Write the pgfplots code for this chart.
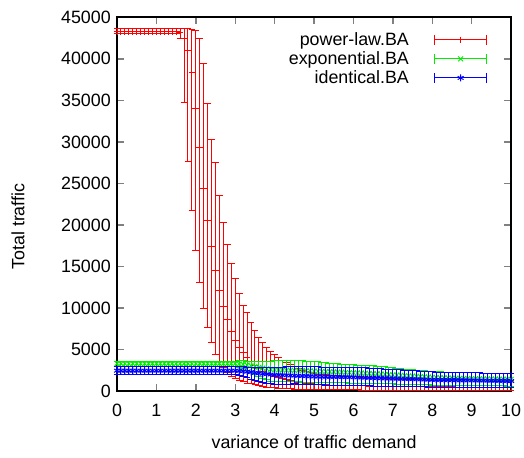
\documentclass[border=0pt]{standalone}
\usepackage{fontspec}
\setmainfont{Liberation Sans}
\usepackage{pgfplots}
\usepackage{pgfplotstable}
\pgfplotsset{compat=1.18}
\definecolor{gpred}{rgb}{1,0,0}
\definecolor{gpgreen}{rgb}{0,0.93,0}
\definecolor{gpblue}{rgb}{0,0,1}

% error bar drawn as part of the mark: bar from -\emlen to +\eplen (pt), caps, symbol
\pgfdeclareplotmark{ebar}{%
  \pgfpathmoveto{\pgfpoint{0pt}{-\emlen pt}}\pgfpathlineto{\pgfpoint{0pt}{\eplen pt}}%
  \pgfpathmoveto{\pgfpoint{-2pt}{\eplen pt}}\pgfpathlineto{\pgfpoint{2pt}{\eplen pt}}%
  \pgfpathmoveto{\pgfpoint{-2pt}{-\emlen pt}}\pgfpathlineto{\pgfpoint{2pt}{-\emlen pt}}%
  \pgfusepathqstroke}
\pgfdeclareplotmark{ebplus}{\pgfuseplotmark{ebar}\pgfuseplotmark{+}}
\pgfdeclareplotmark{ebx}{\pgfuseplotmark{ebar}\pgfuseplotmark{x}}
\pgfdeclareplotmark{ebast}{\pgfuseplotmark{ebar}\pgfuseplotmark{asterisk}}
\pgfdeclareplotmark{legerr}{%
  \pgfpathmoveto{\pgfpoint{-15.5pt}{0pt}}\pgfpathlineto{\pgfpoint{15.5pt}{0pt}}%
  \pgfpathmoveto{\pgfpoint{-15.5pt}{-3pt}}\pgfpathlineto{\pgfpoint{-15.5pt}{3pt}}%
  \pgfpathmoveto{\pgfpoint{15.5pt}{-3pt}}\pgfpathlineto{\pgfpoint{15.5pt}{3pt}}%
  \pgfusepathqstroke}
\pgfdeclareplotmark{legplus}{\pgfuseplotmark{legerr}\pgfuseplotmark{+}}
\pgfdeclareplotmark{legx}{\pgfuseplotmark{legerr}\pgfuseplotmark{x}}
\pgfdeclareplotmark{legast}{\pgfuseplotmark{legerr}\pgfuseplotmark{asterisk}}

\pgfplotstableread[row sep=\\]{
x y ep em\\
0.0 43300 300 300\\ 0.1 43300 300 300\\ 0.2 43300 300 300\\ 0.3 43300 300 300\\ 0.4 43300 300 300\\
0.5 43300 300 300\\ 0.6 43300 300 300\\ 0.7 43300 300 300\\ 0.8 43300 300 300\\ 0.9 43300 300 300\\
1.0 43300 300 300\\ 1.1 43300 300 300\\ 1.2 43300 300 300\\ 1.3 43300 300 300\\ 1.4 43300 300 300\\
1.5 43300 300 300\\ 1.6 43200 400 700\\ 1.7 42500 1100 7700\\ 1.8 41000 2600 13400\\ 1.9 38300 5200 16500\\
2.0 34000 9400 17100\\ 2.1 29300 13100 16200\\ 2.2 24400 15000 14500\\ 2.3 20500 14100 12900\\ 2.4 17400 12900 11600\\
2.5 14500 13000 10050\\ 2.6 12150 11350 8650\\ 2.7 10150 10150 7350\\ 2.8 8600 9000 6400\\ 2.9 7200 8100 5500\\
3.0 6100 7400 4650\\ 3.1 5300 6500 4050\\ 3.2 4600 5750 3500\\ 3.3 4000 5400 3050\\ 3.4 3500 4800 2650\\
3.5 3050 4250 2300\\ 3.6 2700 3800 2050\\ 3.7 2400 3400 1850\\ 3.8 2150 3050 1670\\ 3.9 1950 2850 1530\\
4.0 1750 2650 1380\\ 4.1 1600 2400 1270\\ 4.2 1450 2250 1150\\ 4.3 1330 2070 1060\\ 4.4 1220 1930 970\\
4.5 1120 1780 890\\ 4.6 1040 1660 830\\ 4.7 970 1530 770\\ 4.8 900 1450 710\\ 4.9 850 1350 670\\
5.0 800 1280 630\\ 5.1 780 1260 615\\ 5.2 760 1230 600\\ 5.3 740 1200 590\\ 5.4 720 1180 575\\
5.5 700 1150 560\\ 5.6 690 1135 550\\ 5.7 675 1120 540\\ 5.8 665 1105 530\\ 5.9 650 1095 520\\
6.0 640 1080 510\\ 6.1 630 1065 505\\ 6.2 620 1050 500\\ 6.3 610 1040 495\\ 6.4 600 1025 490\\
6.5 595 1015 480\\ 6.6 585 1000 475\\ 6.7 580 990 470\\ 6.8 570 975 465\\ 6.9 565 960 455\\
7.0 560 950 450\\ 7.1 555 940 445\\ 7.2 550 930 440\\ 7.3 545 920 435\\ 7.4 535 910 430\\
7.5 530 900 425\\ 7.6 525 890 420\\ 7.7 520 880 415\\ 7.8 510 870 410\\ 7.9 505 860 405\\
8.0 500 850 400\\ 8.1 495 845 397\\ 8.2 492 840 394\\ 8.3 490 835 391\\ 8.4 487 830 388\\
8.5 485 825 385\\ 8.6 482 820 382\\ 8.7 480 815 379\\ 8.8 477 810 376\\ 8.9 473 805 373\\
9.0 470 800 370\\ 9.1 468 798 368\\ 9.2 466 796 366\\ 9.3 464 794 364\\ 9.4 462 792 362\\
9.5 460 790 360\\ 9.6 458 788 358\\ 9.7 456 786 356\\ 9.8 454 784 354\\ 9.9 452 782 352\\
10.0 450 780 350\\
}\powerlaw

\pgfplotstableread[row sep=\\]{
x y ep em\\
0.0 3300 300 300\\ 0.1 3300 300 300\\ 0.2 3300 300 300\\ 0.3 3300 300 300\\ 0.4 3300 300 300\\
0.5 3300 300 300\\ 0.6 3300 300 300\\ 0.7 3300 300 300\\ 0.8 3300 300 300\\ 0.9 3300 300 300\\
1.0 3300 300 300\\ 1.1 3300 300 300\\ 1.2 3300 300 300\\ 1.3 3300 300 300\\ 1.4 3300 300 300\\
1.5 3300 300 300\\ 1.6 3300 300 300\\ 1.7 3300 300 300\\ 1.8 3300 300 300\\ 1.9 3300 300 300\\
2.0 3300 300 300\\ 2.1 3300 300 300\\ 2.2 3300 300 300\\ 2.3 3300 300 300\\ 2.4 3300 300 300\\
2.5 3300 300 300\\ 2.6 3300 300 300\\ 2.7 3300 300 300\\ 2.8 3300 300 300\\ 2.9 3300 300 300\\
3.0 3300 300 300\\ 3.1 3250 370 400\\ 3.2 3200 420 520\\ 3.3 3120 480 650\\ 3.4 3030 550 800\\
3.5 2940 620 950\\ 3.6 2850 700 1100\\ 3.7 2760 780 1250\\ 3.8 2680 880 1350\\ 3.9 2600 1000 1400\\
4.0 2550 1130 1400\\ 4.1 2535 1150 1395\\ 4.2 2520 1170 1390\\ 4.3 2505 1190 1385\\ 4.4 2490 1210 1380\\
4.5 2480 1220 1380\\ 4.6 2465 1205 1375\\ 4.7 2450 1190 1370\\ 4.8 2435 1175 1365\\ 4.9 2420 1160 1360\\
5.0 2400 1150 1350\\ 5.1 2380 1120 1340\\ 5.2 2360 1090 1330\\ 5.3 2340 1060 1320\\ 5.4 2320 1030 1310\\
5.5 2300 1000 1300\\ 5.6 2280 990 1290\\ 5.7 2260 980 1280\\ 5.8 2240 970 1270\\ 5.9 2220 960 1260\\
6.0 2200 950 1250\\ 6.1 2180 950 1240\\ 6.2 2160 950 1230\\ 6.3 2140 950 1220\\ 6.4 2120 950 1210\\
6.5 2100 950 1200\\ 6.6 2070 930 1180\\ 6.7 2040 910 1160\\ 6.8 2010 890 1140\\ 6.9 1980 870 1120\\
7.0 1950 850 1100\\ 7.1 1920 830 1084\\ 7.2 1890 810 1068\\ 7.3 1860 790 1052\\ 7.4 1830 770 1036\\
7.5 1800 750 1020\\ 7.6 1770 740 1002\\ 7.7 1740 730 984\\ 7.8 1710 720 966\\ 7.9 1680 710 948\\
8.0 1650 700 930\\ 8.1 1630 700 918\\ 8.2 1610 700 906\\ 8.3 1590 700 894\\ 8.4 1570 700 882\\
8.5 1550 700 870\\ 8.6 1540 700 866\\ 8.7 1530 700 862\\ 8.8 1520 700 858\\ 8.9 1510 700 854\\
9.0 1500 700 850\\ 9.1 1490 700 846\\ 9.2 1480 700 842\\ 9.3 1470 700 838\\ 9.4 1460 700 834\\
9.5 1450 700 830\\ 9.6 1440 700 826\\ 9.7 1430 700 818\\ 9.8 1420 700 812\\ 9.9 1410 700 806\\
10.0 1400 700 800\\
}\exponential

\pgfplotstableread[row sep=\\]{
x y ep em\\
0.0 2450 480 480\\ 0.1 2450 480 480\\ 0.2 2450 480 480\\ 0.3 2450 480 480\\ 0.4 2450 480 480\\
0.5 2450 480 480\\ 0.6 2450 480 480\\ 0.7 2450 480 480\\ 0.8 2450 480 480\\ 0.9 2450 480 480\\
1.0 2450 480 480\\ 1.1 2450 480 480\\ 1.2 2450 480 480\\ 1.3 2450 480 480\\ 1.4 2450 480 480\\
1.5 2450 480 480\\ 1.6 2450 480 480\\ 1.7 2450 480 480\\ 1.8 2450 480 480\\ 1.9 2450 480 480\\
2.0 2450 480 480\\ 2.1 2450 480 480\\ 2.2 2450 480 480\\ 2.3 2450 480 480\\ 2.4 2450 480 480\\
2.5 2450 480 480\\ 2.6 2450 480 480\\ 2.7 2450 480 480\\ 2.8 2450 480 480\\ 2.9 2450 480 480\\
3.0 2450 480 480\\ 3.1 2420 500 560\\ 3.2 2380 520 650\\ 3.3 2330 550 750\\ 3.4 2270 580 850\\
3.5 2200 620 950\\ 3.6 2140 680 1030\\ 3.7 2080 740 1100\\ 3.8 2030 800 1130\\ 3.9 1980 860 1120\\
4.0 1930 900 1100\\ 4.1 1915 940 1081\\ 4.2 1900 980 1062\\ 4.3 1885 1015 1043\\ 4.4 1865 1060 1019\\
4.5 1850 1100 1000\\ 4.6 1830 1110 1000\\ 4.7 1810 1120 1000\\ 4.8 1790 1130 1000\\ 4.9 1770 1140 1000\\
5.0 1750 1150 1000\\ 5.1 1740 1155 1000\\ 5.2 1730 1160 1000\\ 5.3 1720 1165 1000\\ 5.4 1710 1170 1000\\
5.5 1700 1180 1000\\ 5.6 1690 1185 1000\\ 5.7 1680 1190 1000\\ 5.8 1670 1195 1000\\ 5.9 1660 1198 1000\\
6.0 1650 1200 1000\\ 6.1 1635 1190 995\\ 6.2 1620 1180 990\\ 6.3 1605 1170 985\\ 6.4 1590 1160 980\\
6.5 1575 1150 975\\ 6.6 1560 1140 970\\ 6.7 1545 1130 965\\ 6.8 1530 1120 960\\ 6.9 1515 1110 955\\
7.0 1500 1100 950\\ 7.1 1485 1085 943\\ 7.2 1470 1070 936\\ 7.3 1455 1055 929\\ 7.4 1440 1040 922\\
7.5 1425 1025 915\\ 7.6 1410 1010 908\\ 7.7 1395 995 901\\ 7.8 1380 980 894\\ 7.9 1365 965 887\\
8.0 1350 950 880\\ 8.1 1342 948 876\\ 8.2 1335 945 872\\ 8.3 1328 943 868\\ 8.4 1320 940 864\\
8.5 1312 938 860\\ 8.6 1305 935 856\\ 8.7 1298 933 852\\ 8.8 1290 930 848\\ 8.9 1282 928 844\\
9.0 1275 925 840\\ 9.1 1268 922 836\\ 9.2 1260 920 832\\ 9.3 1252 918 828\\ 9.4 1245 915 824\\
9.5 1238 912 820\\ 9.6 1230 910 816\\ 9.7 1222 908 812\\ 9.8 1215 905 808\\ 9.9 1208 902 804\\
10.0 1200 900 800\\
}\identical

\pgfplotsset{
  ebplot/.style={
    only marks, mark size=2pt, line width=0.55pt, forget plot,
    visualization depends on={\thisrow{ep}*0.00488889 \as \eplen},
    visualization depends on={\thisrow{em}*0.00488889 \as \emlen},
  },
}

\begin{document}
\fontsize{10.5}{12.6}\selectfont
\begin{tikzpicture}
\begin{axis}[
  name=ax, at={(0pt,0pt)}, anchor=origin,
  scale only axis, width=232pt, height=220pt,
  xmin=0, xmax=10, ymin=0, ymax=45000,
  xtick={0,1,...,10}, ytick={0,5000,...,45000},
  scaled y ticks=false,
  /pgf/number format/assume math mode=true,
  yticklabel style={/pgf/number format/1000 sep={}},
  xticklabel style={yshift=-4pt},
  tick align=inside, major tick length=4pt,
  axis line style={line width=1pt},
  tick style={line width=0.8pt},
  xlabel={variance of traffic demand},
  ylabel={Total traffic},
  xlabel style={at={(axis description cs:0.5,0)}, anchor=base, yshift=-34pt},
  ylabel style={at={(axis description cs:-0.235,0.44)}, anchor=base},
  legend cell align=right, legend plot pos=right,
  legend style={draw=none, fill=none, at={(1,1)}, anchor=north east,
    xshift=-14pt, yshift=-7.5pt, inner sep=0pt, column sep=14pt,
    nodes={inner sep=1pt}},
  clip=true,
]
\addlegendimage{only marks, color=gpred, mark=legplus, mark size=2pt, line width=0.55pt}
\addlegendentry{power-law.BA}
\addlegendimage{only marks, color=gpgreen, mark=legx, mark size=2pt, line width=0.55pt}
\addlegendentry{exponential.BA}
\addlegendimage{only marks, color=gpblue, mark=legast, mark size=2pt, line width=0.55pt}
\addlegendentry{identical.BA}
\addplot[color=gpred, mark=ebplus, ebplot] table[x=x, y=y]{\powerlaw};
\addplot[color=gpgreen, mark=ebx, ebplot] table[x=x, y=y]{\exponential};
\addplot[color=gpblue, mark=ebast, ebplot] table[x=x, y=y]{\identical};
\end{axis}
\pgfresetboundingbox
\path (-68.9pt,-38.9pt) rectangle (239.6pt,230.2pt);
\end{tikzpicture}
\end{document}
